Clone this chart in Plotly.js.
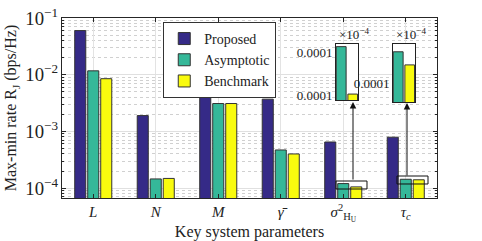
<!DOCTYPE html>
<html>
<head>
<meta charset="utf-8">
<script src="https://cdn.plot.ly/plotly-3.0.1.min.js"></script>
<style>html,body{margin:0;padding:0;background:#fff;}#chart{width:482px;height:241px;}</style>
</head>
<body>
<div id="chart"></div>
<script>
// Categories (tick labels) and series values
const categories = ['<i>L</i>', '<i>N</i>', '<i>M</i>', '<i>γ̄</i>', '<i>σ</i><sup>2</sup><sub>H<sub>U</sub></sub>', '<i>τ</i><sub><i>c</i></sub>'];
const seriesNames = ['Proposed', 'Asymptotic', 'Benchmark'];
const proposed   = [0.060, 0.0019, 0.0077, 0.0037, 0.00065, 0.00079];
const asymptotic = [0.0117, 0.000145, 0.0031, 0.00047, 0.000120, 0.000143];
const benchmark  = [0.0085, 0.000148, 0.0031, 0.00040, 0.000105, 0.000140];
const insetTickText = ['0.0001', '0.0001'];

const colors = ['#352a87', '#35b899', '#f9fb0e'];
const edge = {color: '#333333', width: 1};
const serif = 'Liberation Serif';

const traces = [proposed, asymptotic, benchmark].map((v, i) => ({
  type: 'bar', x: categories, y: v, name: seriesNames[i],
  marker: {color: colors[i], line: edge}, xaxis: 'x', yaxis: 'y'
}));

// Inset 1: sigma^2 (index 4), Inset 2: tau_c (index 5)
function insetBars(idx, xa, ya) {
  return [
    {type: 'bar', x: [0], y: [asymptotic[idx]], width: 0.9, offset: 0.02, marker: {color: colors[1], line: edge}, xaxis: xa, yaxis: ya, showlegend: false, hoverinfo: 'skip'},
    {type: 'bar', x: [1], y: [benchmark[idx]], width: 0.88, offset: 0.08, marker: {color: colors[2], line: edge}, xaxis: xa, yaxis: ya, showlegend: false, hoverinfo: 'skip'}
  ];
}
traces.push(...insetBars(4, 'x2', 'y2'));
traces.push(...insetBars(5, 'x3', 'y3'));

const insetX = (dom, anchor) => ({domain: dom, anchor: anchor, range: [0, 2], showticklabels: false, ticks: '', showgrid: false, zeroline: false, showline: true, mirror: true, linecolor: '#222222', linewidth: 1});
const insetY = (dom, anchor, range, tv, tt) => ({domain: dom, anchor: anchor, range: range, tickmode: 'array', tickvals: tv, ticktext: tt, ticks: '', showgrid: false, zeroline: false, showline: true, mirror: true, linecolor: '#222222', linewidth: 1, tickfont: {family: serif, size: 13, color: '#222222'}});

const layout = {
  width: 482, height: 241,
  margin: {l: 62, r: 45, t: 18, b: 43},
  paper_bgcolor: '#ffffff', plot_bgcolor: '#ffffff',
  font: {family: serif, size: 13, color: '#222222'},
  barmode: 'group', bargap: 0.376, bargroupgap: 0.15,
  showlegend: true,
  legend: {x: 0.27, y: 0.978, xanchor: 'left', yanchor: 'top', bgcolor: '#ffffff', bordercolor: '#333333', borderwidth: 1, font: {family: serif, size: 14, color: '#222222'}},
  xaxis: {
    domain: [0, 1], anchor: 'y', type: 'category', range: [-0.5, 5.5],
    showline: true, mirror: 'ticks', linecolor: '#262626', linewidth: 1,
    ticks: 'inside', ticklen: 4, tickcolor: '#262626',
    showgrid: true, gridcolor: '#e3e3e3', gridwidth: 1,
    tickfont: {family: serif, size: 15, color: '#222222'},
    title: {text: 'Key system parameters', font: {family: serif, size: 16, color: '#222222'}, standoff: 4}
  },
  yaxis: {
    domain: [0, 1], anchor: 'x', type: 'log', range: [-4.175, -1],
    dtick: 1, exponentformat: 'power',
    showline: true, mirror: 'ticks', linecolor: '#262626', linewidth: 1,
    ticks: 'inside', ticklen: 4, tickcolor: '#262626',
    showgrid: true, gridcolor: '#e0e0e0', gridwidth: 1, zeroline: false,
    minor: {dtick: 'D1', ticks: 'inside', ticklen: 2, tickcolor: '#262626', showgrid: true, gridcolor: '#d0d0d0', griddash: 'dot', gridwidth: 1},
    tickfont: {family: serif, size: 15, color: '#222222'},
    title: {text: 'Max-min rate R<sub>J</sub> (bps/Hz)', font: {family: serif, size: 16, color: '#222222'}, standoff: 4}
  },
  xaxis2: insetX([0.7307, 0.7893], 'y2'),
  yaxis2: insetY([0.544, 0.856], 'x2', [1.031e-4, 1.2086e-4], [1.047e-4, 1.183e-4], insetTickText),
  xaxis3: insetX([0.8827, 0.9413], 'y3'),
  yaxis3: insetY([0.533, 0.856], 'x3', [1.315e-4, 1.448e-4], [1.358e-4], insetTickText.slice(0, 1)),
  shapes: [
    {type: 'rect', xref: 'paper', yref: 'paper', x0: 0.7307, x1: 0.8133, y0: 0.05, y1: 0.0944, line: {color: '#111111', width: 1}},
    {type: 'rect', xref: 'paper', yref: 'paper', x0: 0.8933, x1: 0.976, y0: 0.0778, y1: 0.1222, line: {color: '#111111', width: 1}}
  ],
  annotations: [
    {xref: 'paper', yref: 'paper', x: 0.733, y: 0.911, xanchor: 'left', yanchor: 'middle', text: '×10<sup>−4</sup>', showarrow: false, font: {family: serif, size: 13, color: '#222222'}},
    {xref: 'paper', yref: 'paper', x: 0.885, y: 0.911, xanchor: 'left', yanchor: 'middle', text: '×10<sup>−4</sup>', showarrow: false, font: {family: serif, size: 13, color: '#222222'}},
    {xref: 'paper', yref: 'paper', x: 0.776, y: 0.533, text: '', showarrow: true, axref: 'pixel', ayref: 'pixel', ax: 0, ay: 79, arrowhead: 2, arrowsize: 1.3, arrowwidth: 1, arrowcolor: '#111111'},
    {xref: 'paper', yref: 'paper', x: 0.92, y: 0.528, text: '', showarrow: true, axref: 'pixel', ayref: 'pixel', ax: 0, ay: 74, arrowhead: 2, arrowsize: 1.3, arrowwidth: 1, arrowcolor: '#111111'}
  ]
};

Plotly.newPlot('chart', traces, layout, {displayModeBar: false});
</script>
</body>
</html>
